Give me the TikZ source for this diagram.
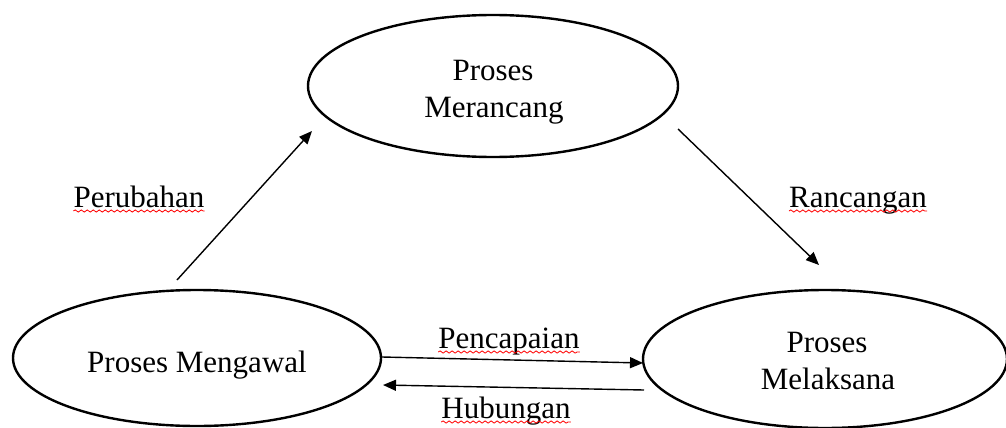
\documentclass[tikz,border=0pt]{standalone}
\usepackage{fontspec}
\setmainfont{Liberation Serif}
\usetikzlibrary{shapes.geometric,arrows.meta,decorations.pathmorphing}
\begin{document}
\begin{tikzpicture}[x=1pt,y=-1pt,
  proc/.style={draw,line width=2.4pt,ellipse,inner sep=0pt},
  txt/.style={font=\fontsize{31}{37}\selectfont,inner sep=0pt,anchor=base},
  conn/.style={line width=1.4pt,-{Triangle[length=13pt,width=11pt]}},
  squig/.style={red,line width=0.8pt,decorate,decoration={snake,segment length=6pt,amplitude=1.1pt}}]
\useasboundingbox (0,0) rectangle (1006,428);
\fill[white] (0,0) rectangle (1006,428);
% ellipses
\node[proc,minimum width=370pt,minimum height=142pt] (T) at (493,86) {};
\node[proc,minimum width=368pt,minimum height=136pt] (L) at (197,358) {};
\node[proc,minimum width=364pt,minimum height=138pt] (R) at (825,359) {};
% texts in ellipses
\node[txt] (t1) at (493,80) {Proses};
\node[txt] (t2) at (494,117) {Merancang};
\node[txt] (l1) at (197,372) {Proses Mengawal};
\node[txt] (r1) at (827,352) {Proses};
\node[txt] (r2) at (828,389) {Melaksana};
% connector ends
\coordinate (a1) at (177,280); \coordinate (a2) at (312,131);
\coordinate (b1) at (678,129); \coordinate (b2) at (819,265);
\coordinate (c1) at (382,357); \coordinate (c2) at (643,363);
\coordinate (d1) at (644,390); \coordinate (d2) at (383,385);
\draw[conn] (a1) -- (a2);
\draw[conn] (b1) -- (b2);
\draw[conn] (c1) -- (c2);
\draw[conn] (d1) -- (d2);
% labels
\node[txt] (p) at (139,207) {Perubahan};
\node[txt] (q) at (858,207) {Rancangan};
\node[txt] (s) at (509,348) {Pencapaian};
\node[txt] (h) at (506,418) {Hubungan};
\foreach \n in {p,q,s,h}
  \draw[squig] ([yshift=-4pt]\n.base west) -- ([yshift=-4pt]\n.base east);
\end{tikzpicture}
\end{document}
